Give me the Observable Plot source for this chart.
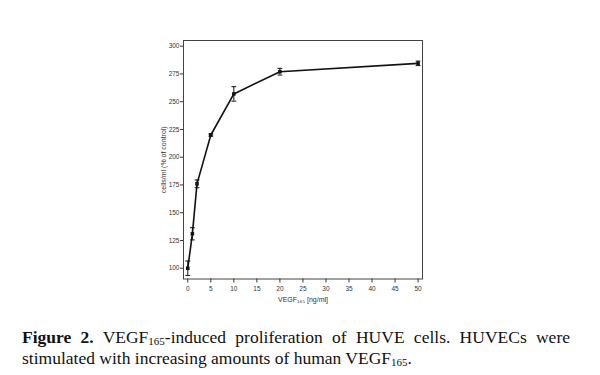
<!DOCTYPE html>
<html>
<head>
<meta charset="utf-8">
<script src="https://cdn.jsdelivr.net/npm/d3@7"></script>
<script src="https://cdn.jsdelivr.net/npm/@observablehq/plot@0.6"></script>
<style>
  html, body { margin: 0; padding: 0; background: #fff; }
  #wrap { position: relative; width: 600px; height: 375px; overflow: hidden; }
  #cap { position: absolute; left: 22px; top: 327px; width: 548px; font-family: "Liberation Serif", "Times New Roman", serif; font-size: 17.5px; line-height: 21px; color: #111; }
  #cap .l1 { text-align: justify; text-align-last: justify; white-space: nowrap; }
  #cap sub { font-size: 11px; vertical-align: -2px; line-height: 0; }
</style>
</head>
<body>
<div id="wrap">
  <div id="chart"></div>
  <div id="cap">
    <div class="l1"><b>Figure 2.</b> VEGF<sub>165</sub>-induced proliferation of HUVE cells. HUVECs were</div>
    <div>stimulated with increasing amounts of human VEGF<sub>165</sub>.</div>
  </div>
</div>
<script>
const dose = [0, 1, 2, 5, 10, 20, 50];
const cells = [100, 131, 176, 220, 257, 277, 284.5];
const err = [6.5, 5.5, 3.5, 1, 6.5, 3, 2];
const xTicks = [0, 5, 10, 15, 20, 25, 30, 35, 40, 45, 50];
const yTicks = [100, 125, 150, 175, 200, 225, 250, 275, 300];

const data = dose.map((d, i) => ({x: d, y: cells[i], lo: cells[i] - err[i], hi: cells[i] + err[i]}));

// horizontal dash symbol for error-bar caps
const capSymbol = {
  draw(context, size) {
    const r = Math.sqrt(size / Math.PI);
    context.moveTo(-r, 0);
    context.lineTo(r, 0);
  }
};

const plot = Plot.plot({
  width: 600,
  height: 320,
  marginLeft: 183,
  marginRight: 178,
  marginTop: 40,
  marginBottom: 41.5,
  style: {fontFamily: "Liberation Sans, Arial, sans-serif", fontSize: "6.5px", color: "#333", background: "#fff"},
  x: {type: "linear", domain: [-0.93, 50.96]},
  y: {type: "linear", domain: [90.3, 305.1]},
  marks: [
    Plot.frame({stroke: "#444", strokeWidth: 1}),
    Plot.axisY({ticks: yTicks, tickSize: 3, tickPadding: 1, fontSize: 6.5, label: null}),
    Plot.axisX({ticks: xTicks, tickSize: 4, tickPadding: 3, fontSize: 6.5, label: null}),
    Plot.axisY({ticks: [], tickSize: 0, fontSize: 7, label: "cells/ml (% of control)", labelAnchor: "center", labelArrow: "none", labelOffset: 22}),
    Plot.axisX({ticks: [], tickSize: 0, fontSize: 7, label: "VEGF₁₆₅ [ng/ml]", labelAnchor: "center", labelArrow: "none", labelOffset: 23}),
    Plot.ruleX(data, {x: "x", y1: "lo", y2: "hi", stroke: "#111", strokeWidth: 1}),
    Plot.dot(data, {x: "x", y: "lo", r: 2.4, symbol: capSymbol, stroke: "#111", fill: "none", strokeWidth: 1}),
    Plot.dot(data, {x: "x", y: "hi", r: 2.4, symbol: capSymbol, stroke: "#111", fill: "none", strokeWidth: 1}),
    Plot.line(data, {x: "x", y: "y", stroke: "#111", strokeWidth: 1.6}),
    Plot.dot(data, {x: "x", y: "y", r: 2, fill: "#111", symbol: "square"})
  ]
});
document.getElementById("chart").appendChild(plot);
</script>
</body>
</html>
